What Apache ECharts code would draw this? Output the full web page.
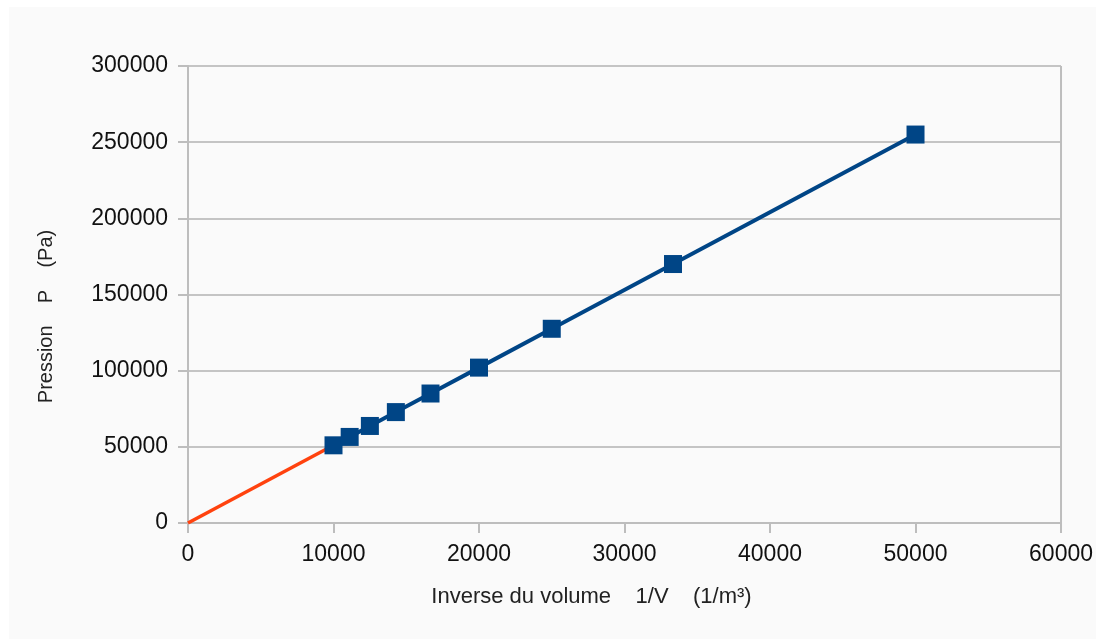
<!DOCTYPE html>
<html>
<head>
<meta charset="utf-8">
<script src="https://cdn.jsdelivr.net/npm/echarts@6/dist/echarts.min.js"></script>
<style>
html,body{margin:0;padding:0;background:#ffffff;width:1106px;height:643px;overflow:hidden;}
#chart{position:absolute;left:9px;top:7px;width:1087px;height:632px;background:#fafafa;}
</style>
</head>
<body>
<div id="chart"></div>
<script>
// 1/V values (1/m³)
const inverseVolume = [10000, 11111, 12500, 14286, 16667, 20000, 25000, 33333, 50000];
// Pressure values (Pa)
const pressure = [51000, 56500, 63700, 72800, 85000, 102000, 127500, 170000, 255000];
// Extrapolation to origin
const extrapX = [0, 10000];
const extrapY = [0, 51000];

const xTicks = { min: 0, max: 60000, interval: 10000 };
const yTicks = { min: 0, max: 300000, interval: 50000 };

const chart = echarts.init(document.getElementById('chart'), null, { renderer: 'canvas' });
const font = '"Liberation Sans", Arial, sans-serif';
const option = {
  backgroundColor: '#fafafa',
  animation: false,
  grid: { left: 179, top: 59, right: 34, bottom: 116, containLabel: false },
  xAxis: {
    type: 'value',
    min: xTicks.min, max: xTicks.max, interval: xTicks.interval,
    name: 'Inverse du volume    1/V    (1/m³)',
    nameLocation: 'middle',
    nameGap: 63,
    nameTextStyle: { color: '#222', fontSize: 22, fontFamily: font, padding: [0, 66, 0, 0] },
    axisLine: { show: true, onZero: false, lineStyle: { color: '#bdbdbd', width: 2 } },
    axisTick: { show: true, length: 10, lineStyle: { color: '#bdbdbd', width: 2 } },
    axisLabel: { color: '#111', fontSize: 23, fontFamily: font, margin: 20, formatter: v => String(v) },
    splitLine: { show: false }
  },
  yAxis: {
    type: 'value',
    min: yTicks.min, max: yTicks.max, interval: yTicks.interval,
    name: 'Pression    P    (Pa)',
    nameLocation: 'middle',
    nameGap: 132,
    nameRotate: 90,
    nameTextStyle: { color: '#222', fontSize: 20, fontFamily: font, padding: [0, 44, 0, 0] },
    axisLine: { show: true, lineStyle: { color: '#bdbdbd', width: 2 } },
    axisTick: { show: true, length: 10, lineStyle: { color: '#bdbdbd', width: 2 } },
    axisLabel: { color: '#111', fontSize: 23, fontFamily: font, margin: 20, formatter: v => String(v) },
    splitLine: { show: true, lineStyle: { color: '#c4c4c4', width: 2 } }
  },
  series: [
    {
      type: 'line',
      data: extrapX.map((x, i) => [x, extrapY[i]]),
      symbol: 'none',
      lineStyle: { color: '#ff420e', width: 3.5 },
      z: 2
    },
    {
      type: 'line',
      data: inverseVolume.map((x, i) => [x, pressure[i]]),
      symbol: 'rect',
      symbolSize: 18,
      itemStyle: { color: '#004586' },
      lineStyle: { color: '#004586', width: 4 },
      z: 3
    }
  ]
};
chart.setOption(option);
chart.setOption({ grid: { right: 30 } });
const gr = chart.getModel().getComponent('grid').coordinateSystem.getRect();
chart.setOption({
  graphic: [{
    type: 'line',
    shape: { x1: gr.x + gr.width, y1: gr.y, x2: gr.x + gr.width, y2: gr.y + gr.height + 10 },
    style: { stroke: '#bdbdbd', lineWidth: 2 },
    z: 1
  }]
});
</script>
</body>
</html>
